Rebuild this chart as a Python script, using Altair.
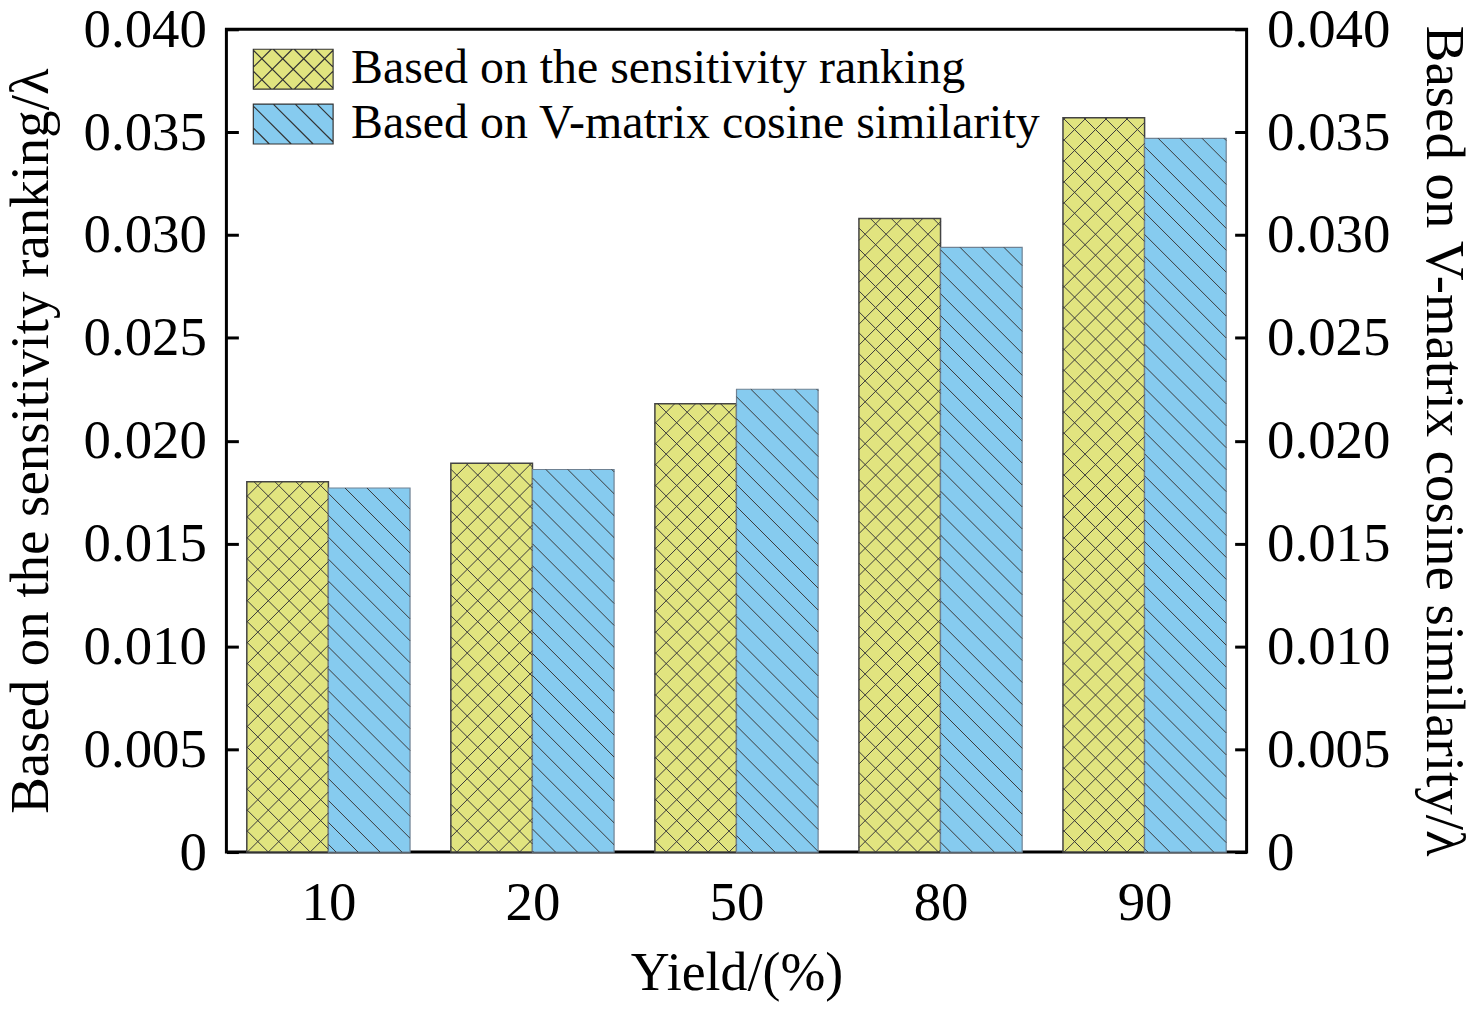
import math
import json
import altair as alt
import pandas as pd

# ---------------- data ----------------
categories = ["10", "20", "50", "80", "90"]
sensitivity_vals = [0.0180, 0.0189, 0.0218, 0.0308, 0.0357]
vmatrix_vals = [0.0177, 0.0186, 0.0225, 0.0294, 0.0347]
series_names = ["Based on the sensitivity ranking", "Based on V-matrix cosine similarity"]
y_tick_values = [0.0, 0.005, 0.010, 0.015, 0.020, 0.025, 0.030, 0.035, 0.040]

# ---------------- layout / style ----------------
W, H = 1023, 825
PAD = {"left": 219, "top": 20, "right": 222, "bottom": 150}
X_DOMAIN = [-0.5, len(categories) - 0.5]
Y_DOMAIN = [0.0, 0.04]
BAR_W = 0.4
YELLOW = "#E1E47F"
BLUE = "#86CBEF"
HATCH = "#3a3a3a"
FONT = "Liberation Serif"
TICK_FS = 55
CROSS_SP = 21.0   # hatch spacing in px
DIAG_SP = 22.0
SYM_UNIT = 20.0   # px per legend-symbol path unit (sqrt(symbolSize)/2)

px_x = W / (X_DOMAIN[1] - X_DOMAIN[0])
px_y = H / (Y_DOMAIN[1] - Y_DOMAIN[0])

rows = []
for i, cat in enumerate(categories):
    rows.append(dict(idx=i, cat=cat, series=series_names[0], value=sensitivity_vals[i],
                     x0=i - BAR_W, x1=i))
    rows.append(dict(idx=i, cat=cat, series=series_names[1], value=vmatrix_vals[i],
                     x0=i, x1=i + BAR_W))
bars_df = pd.DataFrame(rows)


def clip_lines(u0, u1, v0, v1, slope, spacing):
    """45-degree lines v = slope*u + c (c multiple of spacing) clipped to a box."""
    if slope > 0:
        cmin, cmax = v0 - u1, v1 - u0
    else:
        cmin, cmax = v0 + u0, v1 + u1
    out = []
    for k in range(math.ceil(cmin / spacing), math.floor(cmax / spacing) + 1):
        c = k * spacing
        if slope > 0:
            ua, ub = max(u0, v0 - c), min(u1, v1 - c)
        else:
            ua, ub = max(u0, c - v1), min(u1, c - v0)
        if ub - ua > 1e-6:
            out.append((ua, slope * ua + c, ub, slope * ub + c))
    return out


# hatch segments derived from the bars
hatch_rows = []
for r in rows:
    u0 = (r["x0"] - X_DOMAIN[0]) * px_x
    u1 = (r["x1"] - X_DOMAIN[0]) * px_x
    v0, v1 = 0.0, r["value"] * px_y
    if r["series"] == series_names[0]:
        segs = clip_lines(u0, u1, v0, v1, 1, CROSS_SP) + clip_lines(u0, u1, v0, v1, -1, CROSS_SP)
    else:
        segs = clip_lines(u0, u1, v0, v1, -1, DIAG_SP)
    for ua, va, ub, vb in segs:
        hatch_rows.append(dict(hx=ua / px_x + X_DOMAIN[0], hy=va / px_y,
                               hx2=ub / px_x + X_DOMAIN[0], hy2=vb / px_y))
hatch_df = pd.DataFrame(hatch_rows)


# legend symbol paths (box 80x40 px: x in [-2,2], y in [-1,1] path units, y down)
def symbol_path(kind):
    p = "M-2,-1L2,-1L2,1L-2,1Z"
    if kind == "cross":
        segs = (clip_lines(-2, 2, -1, 1, 1, CROSS_SP / SYM_UNIT)
                + clip_lines(-2, 2, -1, 1, -1, CROSS_SP / SYM_UNIT))
    else:
        segs = clip_lines(-2, 2, -1, 1, 1, DIAG_SP / SYM_UNIT)
    for ua, va, ub, vb in segs:
        p += f"M{ua:.3f},{va:.3f}L{ub:.3f},{vb:.3f}"
    return p


path_cross = symbol_path("cross")
path_diag = symbol_path("diag")

xscale = alt.Scale(domain=X_DOMAIN, nice=False, zero=False)
yscale = alt.Scale(domain=Y_DOMAIN, nice=False, zero=False)

label_expr_y = "datum.value == 0 ? '0' : format(datum.value, '.3f')"
label_expr_x = json.dumps(categories).replace('"', "'") + "[datum.value]"


def labeled_y_axis(orient, title, title_pad):
    return alt.Axis(orient=orient, values=y_tick_values, ticks=False, tickSize=0, domain=False,
                    grid=False, labelExpr=label_expr_y, labelFont=FONT, labelFontSize=TICK_FS,
                    labelColor="black", labelPadding=20, title=title, titleFont=FONT,
                    titleFontSize=55, titleFontWeight="normal", titleColor="black",
                    titlePadding=title_pad)


def tick_axis(orient, offset, values):
    return alt.Axis(orient=orient, offset=offset, values=values, labels=False, domain=False,
                    ticks=True, tickSize=12, tickWidth=3, tickColor="black", grid=False,
                    title=None)


x_positions = list(range(len(categories)))

yellow = alt.Chart(bars_df).transform_filter(
    alt.datum.series == series_names[0]
).mark_bar(fill=YELLOW, stroke="#444444", strokeWidth=1.5).encode(
    x=alt.X("x0:Q", scale=xscale,
            axis=alt.Axis(orient="bottom", values=x_positions, ticks=False, tickSize=0,
                          domain=False, grid=False, labelExpr=label_expr_x, labelFont=FONT,
                          labelFontSize=TICK_FS, labelColor="black", labelPadding=25,
                          title="Yield/(%)", titleFont=FONT, titleFontSize=54,
                          titleFontWeight="normal", titleColor="black", titlePadding=16)),
    x2="x1:Q",
    y=alt.Y("value:Q", scale=yscale,
            axis=labeled_y_axis("left", "Based on the sensitivity ranking/λ", 24)),
    y2=alt.datum(0),
)

blue = alt.Chart(bars_df).transform_filter(
    alt.datum.series == series_names[1]
).mark_bar(fill=BLUE, stroke="#6f8294", strokeWidth=1.2).encode(
    x=alt.X("x0:Q", scale=xscale, axis=None),
    x2="x1:Q",
    y=alt.Y("value:Q", scale=yscale,
            axis=labeled_y_axis("right", "Based on V-matrix cosine similarity/λ", 25)),
    y2=alt.datum(0),
)

hatch = alt.Chart(hatch_df).mark_rule(stroke=HATCH, strokeWidth=1.0).encode(
    x=alt.X("hx:Q", scale=xscale, axis=tick_axis("top", -H, x_positions)),
    x2="hx2:Q",
    y=alt.Y("hy:Q", scale=yscale, axis=tick_axis("right", -W, y_tick_values)),
    y2="hy2:Q",
)

legend = alt.Legend(title=None, orient="none", legendX=43, legendY=16, symbolSize=1600,
                    symbolStrokeWidth=1.2, symbolOpacity=1,
                    labelFont=FONT, labelFontSize=48, labelColor="black", labelOffset=34,
                    labelLimit=0, rowPadding=7, padding=0)

legend_layer = alt.Chart(bars_df).mark_point(filled=True, opacity=0, strokeWidth=1.2).encode(
    x=alt.X("idx:Q", scale=xscale, axis=None),
    y=alt.Y("value:Q", scale=yscale, axis=tick_axis("left", -W, y_tick_values)),
    fill=alt.Fill("series:N", scale=alt.Scale(domain=series_names, range=[YELLOW, BLUE]), legend=legend),
    shape=alt.Shape("series:N", scale=alt.Scale(domain=series_names, range=[path_cross, path_diag]),
                    legend=legend),
    stroke=alt.Stroke("series:N", scale=alt.Scale(domain=series_names, range=["#333333", "#333333"]),
                      legend=legend),
)

chart = alt.layer(yellow, blue, hatch, legend_layer).resolve_scale(
    x="independent", y="independent"
).properties(
    width=W, height=H, padding=PAD, autosize=alt.AutoSizeParams(type="none")
).configure(
    background="white"
).configure_view(
    stroke="black", strokeWidth=3
)

chart.save("out.html", embed_options={"renderer": "svg", "actions": False})
